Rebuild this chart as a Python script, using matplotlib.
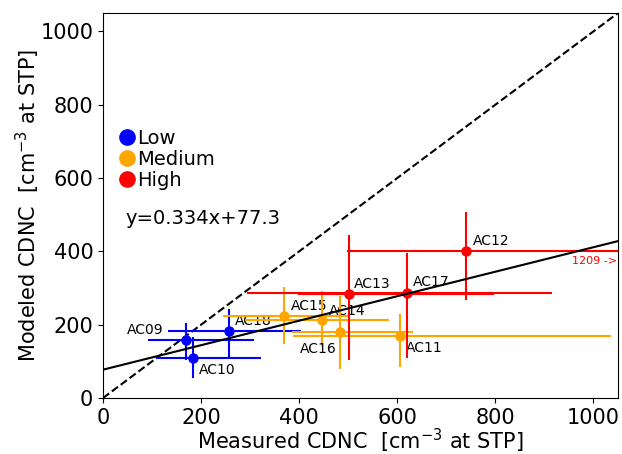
# CDNC: modeled vs measured

import numpy as np
import matplotlib.pyplot as plt
from matplotlib.lines import Line2D

# Data
names = ['AC09', 'AC10', 'AC18', 'AC15', 'AC14', 'AC16', 'AC11', 'AC13', 'AC17', 'AC12']
groups = ['Low', 'Low', 'Low', 'Medium', 'Medium', 'Medium', 'Medium', 'High', 'High', 'High']
measured = [169, 184, 257, 368, 447, 483, 606, 501, 620, 740]
modeled = [158, 110, 182, 224, 213, 181, 170, 283, 287, 400]
meas_lo = [91, 109, 133, 245, 290, 385, 387, 398, 293, 497]
meas_hi = [308, 322, 403, 500, 583, 633, 1036, 797, 916, 1209]
mod_lo = [104, 54, 106, 147, 142, 78, 85, 104, 108, 267]
mod_hi = [205, 167, 243, 302, 293, 278, 229, 445, 395, 508]

slope = 0.334
intercept = 77.3

colors = {'Low': 'blue', 'Medium': 'orange', 'High': 'red'}

# label offsets in pixels (dx, dy, ha)
offsets = {'AC09': (-22, 10, 'right'), 'AC10': (6, -12, 'left'),
           'AC18': (6, 10, 'left'), 'AC15': (7, 10, 'left'),
           'AC14': (7, 9, 'left'), 'AC16': (-22, -17, 'center'),
           'AC11': (6, -12, 'left'), 'AC13': (5, 10, 'left'),
           'AC17': (6, 11, 'left'), 'AC12': (7, 10, 'left')}

fig = plt.figure(figsize=(6.22, 4.54), dpi=100)
ax = fig.add_axes([0.1656, 0.1233, 0.828, 0.848])

for i in range(len(names)):
    c = colors[groups[i]]
    xerr = [[measured[i] - meas_lo[i]], [meas_hi[i] - measured[i]]]
    yerr = [[modeled[i] - mod_lo[i]], [mod_hi[i] - modeled[i]]]
    ax.errorbar(measured[i], modeled[i], xerr=xerr, yerr=yerr, fmt='o', color=c,
                ms=6.5, elinewidth=1.5, capsize=0, zorder=3)
    dx, dy, ha = offsets[names[i]]
    ax.annotate(names[i], (measured[i], modeled[i]), xytext=(dx, dy),
                textcoords='offset pixels', ha=ha, va='center', fontsize=10)

xmax = 1050
ymax = 1050
xs = np.array([0, xmax])
ax.plot(xs, slope * xs + intercept, color='black', lw=1.5, zorder=4)
ax.plot([0, xmax], [0, xmax], color='black', ls='--', lw=1.5, zorder=2)

ax.text(1047, 375, '1209 ->', color='red', fontsize=8, ha='right', va='center')

ax.set_xlim(0, xmax)
ax.set_ylim(0, ymax)
ax.set_xticks([0, 200, 400, 600, 800, 1000])
ax.set_yticks([0, 200, 400, 600, 800, 1000])
ax.tick_params(labelsize=15)
ax.set_xlabel('Measured CDNC  [cm$^{-3}$ at STP]', fontsize=15, labelpad=-1)
ax.set_ylabel('Modeled CDNC  [cm$^{-3}$ at STP]', fontsize=15, labelpad=-1.5)

handles = [Line2D([], [], marker='o', ls='', color=colors[g], ms=11) for g in ['Low', 'Medium', 'High']]
ax.legend(handles, ['Low', 'Medium', 'High'], loc='upper left', bbox_to_anchor=(0.005, 0.735),
          frameon=False, fontsize=14, handlelength=0.8, handletextpad=0.1,
          labelspacing=0.1, borderaxespad=0.3)

ax.text(0.043, 0.467, 'y=%.3fx+%.1f' % (slope, intercept), transform=ax.transAxes,
        fontsize=14, va='center')

plt.savefig('out.png', dpi=100)
